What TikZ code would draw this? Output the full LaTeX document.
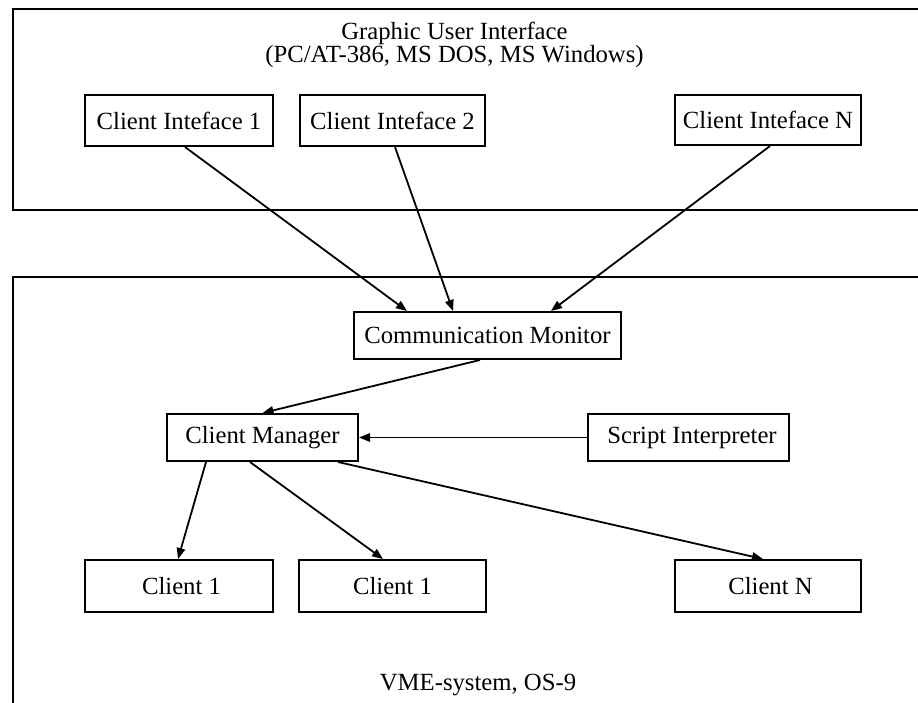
\documentclass[tikz,border=0pt]{standalone}
\usepackage{fontspec}
\setmainfont{Liberation Serif}
\usetikzlibrary{arrows.meta}
\begin{document}
\begin{tikzpicture}[x=1pt,y=-1pt,
  box/.style={draw, line width=2pt, inner sep=0pt, minimum height=#1, font=\fontsize{24.7}{27}\selectfont},
  box/.default=47pt,
  lbl/.style={inner sep=0pt, font=\fontsize{24.7}{27}\selectfont},
  frame/.style={line width=2pt},
  arr/.style={line width=1.8pt, -{Triangle[length=11pt,width=8.5pt]}}]
\useasboundingbox (0,0) rectangle (918,703);
\clip (0,0) rectangle (918,703);
\fill[white] (0,0) rectangle (918,703);
% frames
\draw[frame] (930,9) -- (13,9) -- (13,210) -- (930,210);
\draw[frame] (930,277) -- (13,277) -- (13,720);
% titles
\node[lbl, align=center, font=\fontsize{24.7}{19.5}\selectfont] (title) at (454.5,45) {Graphic User Interface\\(PC/AT-386, MS DOS, MS Windows)};
\node[lbl, anchor=base] (vme) at (478,690) {VME-system, OS-9};
% nodes
\node[box=51pt, minimum width=188pt] (ci1) at (179,120.5) {Client Inteface 1};
\node[box=51pt, minimum width=185pt] (ci2) at (392.5,120.5) {Client Inteface 2};
\node[box=50pt, minimum width=186pt] (ciN) at (768,120) {Client Inteface N};
\node[box, minimum width=267pt] (cm) at (487.5,335.5) {Communication Monitor};
\node[box, minimum width=191pt] (mgr) at (262.5,437.5) {Client Manager};
\node[box, minimum width=201pt] (si) at (688.5,437.5) {\hspace{7pt}Script Interpreter};
\node[box=52pt, minimum width=188pt] (c1) at (179,586) {\hspace{5pt}Client 1};
\node[box=52pt, minimum width=187pt] (c2) at (392.5,586) {Client 1};
\node[box=52pt, minimum width=186pt] (cN) at (768,586) {\hspace{5pt}Client N};
% connectors
\draw[arr] ([xshift=6pt]ci1.south) -- ([xshift=-80.5pt]cm.north);
\draw[arr] ([xshift=2.5pt]ci2.south) -- ([xshift=-34.5pt]cm.north);
\draw[arr] ([xshift=2pt]ciN.south) -- ([xshift=63.5pt]cm.north);
\draw[arr] ([xshift=-7.5pt]cm.south) -- (mgr.north);
\draw[arr] (si.west) -- (mgr.east);
\draw[arr] ([xshift=-56.5pt]mgr.south) -- ([xshift=-1pt]c1.north);
\draw[arr] ([xshift=-12.5pt]mgr.south) -- ([xshift=-9.5pt]c2.north);
\draw[arr] ([xshift=75.5pt]mgr.south) -- ([xshift=-5pt]cN.north);
\end{tikzpicture}
\end{document}
